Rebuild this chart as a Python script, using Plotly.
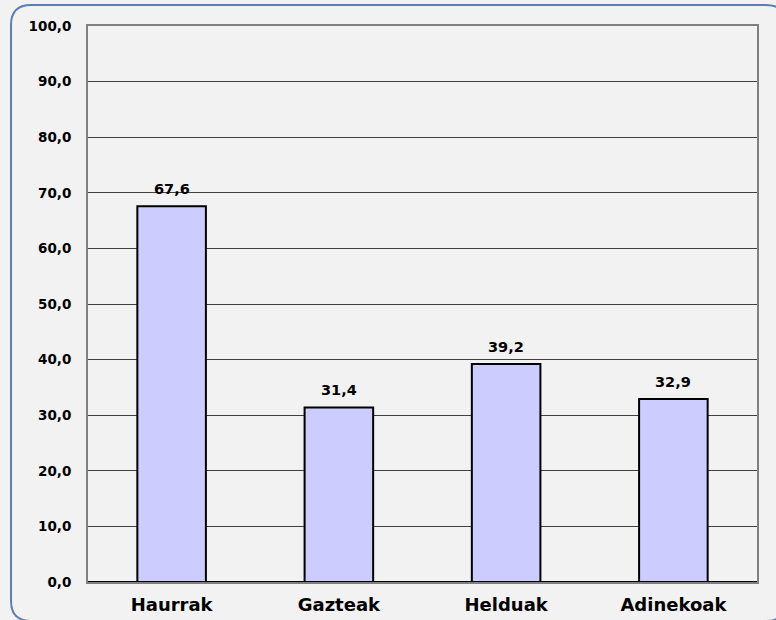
import plotly.graph_objects as go

categories = ["Haurrak", "Gazteak", "Helduak", "Adinekoak"]
values = [67.6, 31.4, 39.2, 32.9]
y_ticks = [0, 10, 20, 30, 40, 50, 60, 70, 80, 90, 100]

W, H = 776, 620
L, R, T, B = 88, 19, 26, 38
pw, ph = W - L - R, H - T - B

def px(x):
    return (x - L) / pw

def py(y):
    return (H - B - y) / ph

fig = go.Figure()
fig.add_trace(go.Bar(
    x=categories, y=values,
    marker=dict(color="#CCCCFF", line=dict(color="#000000", width=2)),
    width=0.41,
))

labels = [f"{v:.1f}".replace(".", ",") for v in values]
for c, v, t in zip(categories, values, labels):
    fig.add_annotation(x=c, y=v, text=t, showarrow=False, yanchor="bottom", yshift=7,
                       font=dict(family="DejaVu Sans", size=14.5, color="#000000", weight="bold"))

# rounded outer border
x0, y0, x1, y1, r = 11, 5, 786, 621, 20
path = (f"M {px(x0)},{py(y0 + r)} Q {px(x0)},{py(y0)} {px(x0 + r)},{py(y0)} "
        f"L {px(x1 - r)},{py(y0)} Q {px(x1)},{py(y0)} {px(x1)},{py(y0 + r)} "
        f"L {px(x1)},{py(y1 - r)} Q {px(x1)},{py(y1)} {px(x1 - r)},{py(y1)} "
        f"L {px(x0 + r)},{py(y1)} Q {px(x0)},{py(y1)} {px(x0)},{py(y1 - r)} Z")
fig.add_shape(type="path", path=path, xref="paper", yref="paper",
              line=dict(color="#5B7FB5", width=2), fillcolor="rgba(0,0,0,0)", layer="below")

fig.update_layout(
    width=W, height=H,
    margin=dict(l=L, r=R, t=T, b=B, autoexpand=False),
    paper_bgcolor="#F2F2F2", plot_bgcolor="#F2F2F2",
    separators=", ",
    showlegend=False,
    bargap=0.59,
    font=dict(family="DejaVu Sans", color="#000000"),
)
fig.update_yaxes(
    range=[0, 100], tickvals=y_ticks, tickformat=".1f",
    showgrid=True, gridcolor="#404040", gridwidth=1,
    showline=True, linecolor="#808080", linewidth=2, mirror=True,
    ticks="outside", ticklen=12, tickcolor="rgba(0,0,0,0)",
    tickfont=dict(family="DejaVu Sans", size=13.5, color="#000000", weight="bold"),
    zeroline=False, automargin=False,
)
fig.update_xaxes(
    showline=True, linecolor="#808080", linewidth=2, mirror=True,
    ticks="outside", ticklen=5, tickcolor="rgba(0,0,0,0)",
    tickfont=dict(family="DejaVu Sans", size=18, color="#000000", weight="bold"),
    automargin=False,
)
fig.add_hline(y=0, line=dict(color="#000000", width=2))

fig.write_html("out.html", config={"displayModeBar": False},
               post_script="document.body.style.margin='0';document.body.style.background='#F2F2F2';")
